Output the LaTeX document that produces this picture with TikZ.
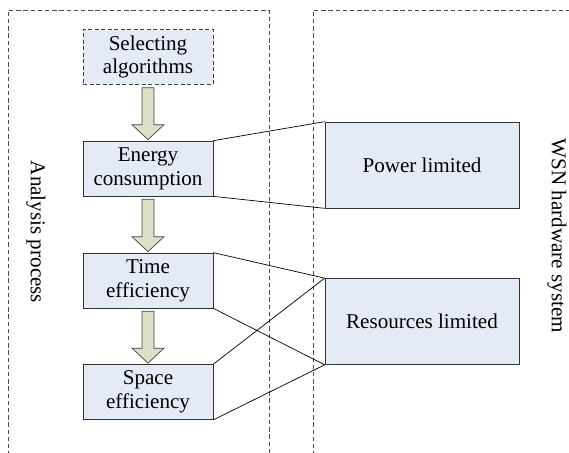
\documentclass[tikz,border=0pt]{standalone}
\usepackage{fontspec}
\setmainfont{Liberation Serif}
\usepackage{tikz}
\usetikzlibrary{calc}

\definecolor{boxfill}{RGB}{228,234,246}
\definecolor{arrowfill}{RGB}{221,224,200}

\begin{document}
\begin{tikzpicture}[x=0.02cm, y=-0.02cm, every node/.style={font=\fontsize{12}{13.5}\selectfont}]
    \tikzset{
      stagebox/.style={draw=black!80, thin, fill=boxfill, align=center,
                       minimum width=2.6cm, minimum height=1.1cm, inner sep=0pt},
      limitbox/.style={draw=black!80, thin, fill=boxfill, align=center,
                       minimum width=3.88cm, minimum height=1.72cm, inner sep=0pt},
      regionline/.style={thin, draw=black!70, dash pattern=on 2.5pt off 1.6pt},
      blockarrow/.style={draw=black!75, thin, fill=arrowfill, line join=miter}
    }
    \useasboundingbox (0,0) rectangle (569,453);
    \clip (0,0) rectangle (569,453); % Clips the open bottom of the regions

    % the two dashed regions
    \draw [regionline] (8,470) -- (8,10) -- (269,10) -- (269,470);
    \draw [regionline] (313,470) -- (313,10) -- (590,10);

    % left column: analysis steps
    \node[stagebox, draw=black!75, dash pattern=on 2.5pt off 1.2pt] (Select) at (148,57)    {Selecting\\algorithms};
    \node[stagebox] (Energy) at (148,168.5) {Energy\\consumption};
    \node[stagebox] (Time)   at (148,280.5) {Time\\efficiency};
    \node[stagebox] (Space)  at (148,392)   {Space\\efficiency};

    % right column: hardware limits
    \node[limitbox] (Power) at (422,165)   {Power limited};
    \node[limitbox] (Resrc) at (422,321.5) {Resources limited};

    % side labels
    \node[rotate=-90] (AnaLabel) at (36,232)  {Analysis process};
    \node[rotate=-90] (WsnLabel) at (557,236) {WSN hardware system};

    % block arrows between the steps
    \foreach \a/\b in {Select/Energy, Energy/Time, Time/Space}{%
      \draw [blockarrow] ($(\a.south)+(-6,3)$)
          -- ($(\b.north)+(-6,-16)$) -- ($(\b.north)+(-16,-16)$)
          -- ($(\b.north)+(0,-1)$)
          -- ($(\b.north)+(16,-16)$) -- ($(\b.north)+(6,-16)$)
          -- ($(\a.south)+(6,3)$) -- cycle;
    }

    % links from the steps to the limits
    \draw [thin] (Energy.north east) -- (Power.north west);
    \draw [thin] (Energy.south east) -- (Power.south west);
    \draw [thin] (Time.north east)   -- (Resrc.north west);
    \draw [thin] (Time.south east)   -- (Resrc.south west);
    \draw [thin] (Space.north east)  -- (Resrc.north west);
    \draw [thin] (Space.south east)  -- (Resrc.south west);
\end{tikzpicture}
\end{document}
